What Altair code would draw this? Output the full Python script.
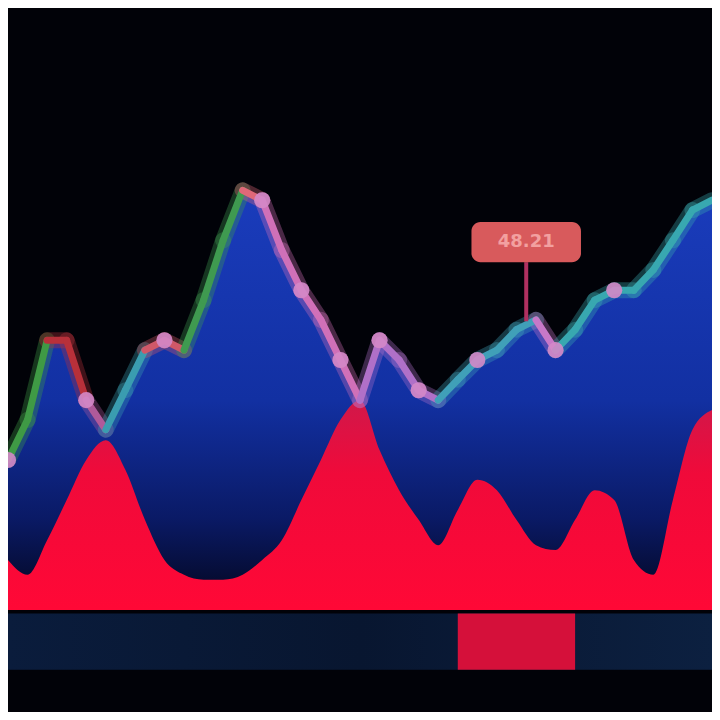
import altair as alt
import pandas as pd

# time index (one step ~ one period)
t = list(range(37))

# upper series (the bright line / top of the blue area)
price = [35.8, 41.5, 52.8, 52.8, 44.3, 40.1, 45.7, 51.4, 52.8, 51.4,
         58.5, 67.0, 74.1, 72.7, 65.6, 59.9, 55.7, 50.0, 44.3, 52.8,
         50.0, 45.7, 44.3, 47.2, 50.0, 51.4, 54.3, 55.7, 51.4, 54.3,
         58.5, 59.9, 59.9, 62.8, 67.0, 71.3, 72.7]

# lower series (top of the red area)
floor = [21.6, 19.5, 24.4, 30.1, 35.8, 38.6, 34.4, 27.3, 21.6, 19.5,
         18.8, 18.8, 19.5, 21.6, 24.4, 30.1, 35.8, 41.5, 44.3, 37.2,
         31.5, 27.3, 23.7, 28.7, 33.0, 31.5, 27.3, 23.7, 23.0, 27.3,
         31.5, 30.1, 21.6, 19.5, 30.1, 40.1, 42.9]

base_value = 14.5

# colour of each line segment (i -> i+1)
seg_colors = (["#3f9a45"] * 2 + ["#b8303a"] * 2 + ["#b05a9a"] +
              ["#3a9db0"] * 2 + ["#d05868"] * 2 +
              ["#3f9a50"] * 3 + ["#e06878"] + ["#d070b8"] * 5 +
              ["#b070c8"] * 4 + ["#40a0b8"] * 5 + ["#c878c8"] +
              ["#38a8b0"] * 8)

dot_idx = [0, 4, 8, 13, 15, 17, 19, 21, 24, 28, 31]

# annotation box
label_t = [23.7, 29.3]
label_v = [63.9, 69.6]
label_text = "48.21"
stem_v = [55.5, 63.9]

# bottom strip
strip_t = [0, 36]
strip_v = [6.0, 14.0]
strip_red_t = [23.0, 29.0]

df = pd.DataFrame({"t": t, "price": price, "floor": floor,
                   "base": [base_value] * len(t)})

seg_rows = []
for i, c in enumerate(seg_colors):
    seg_rows.append({"t": t[i], "price": price[i], "seg": i, "col": c})
    seg_rows.append({"t": t[i + 1], "price": price[i + 1], "seg": i, "col": c})
seg_df = pd.DataFrame(seg_rows)

dots_df = pd.DataFrame({"t": [t[i] for i in dot_idx],
                        "price": [price[i] for i in dot_idx]})

xs = alt.Scale(domain=[0, 36], nice=False, zero=False)
ys = alt.Scale(domain=[0, 100], nice=False, zero=False)
X = alt.X("t:Q", scale=xs, axis=None)

strip_df = pd.DataFrame({"t": [strip_t[0]], "t2": [strip_t[1]],
                         "v": [strip_v[0]], "v2": [strip_v[1]]})
strip = alt.Chart(strip_df).mark_rect(
    color=alt.Gradient(gradient="linear", x1=0, x2=1, y1=0, y2=0,
                       stops=[alt.GradientStop(offset=0, color="#0a1c3c"),
                              alt.GradientStop(offset=0.5, color="#081630"),
                              alt.GradientStop(offset=1, color="#0c2040")])
).encode(x=X, x2="t2:Q", y=alt.Y("v:Q", scale=ys, axis=None), y2="v2:Q")

strip_red_df = pd.DataFrame({"t": [strip_red_t[0]], "t2": [strip_red_t[1]],
                             "v": [strip_v[0]], "v2": [strip_v[1]]})
strip_red = alt.Chart(strip_red_df).mark_rect(color="#d5103a").encode(
    x=X, x2="t2:Q", y=alt.Y("v:Q", scale=ys, axis=None), y2="v2:Q")

blue = alt.Chart(df).mark_area(
    interpolate="monotone",
    color=alt.Gradient(gradient="linear", x1=0, x2=0, y1=0, y2=1,
                       stops=[alt.GradientStop(offset=0, color="#1a3cbc"),
                              alt.GradientStop(offset=0.5, color="#1230a2"),
                              alt.GradientStop(offset=0.78, color="#0a1a66"),
                              alt.GradientStop(offset=1, color="#03051a")])
).encode(x=X, y=alt.Y("price:Q", scale=ys, axis=None), y2="base:Q")

red = alt.Chart(df).mark_area(
    interpolate="monotone",
    color=alt.Gradient(gradient="linear", x1=0, x2=0, y1=0, y2=1,
                       stops=[alt.GradientStop(offset=0, color="#d0184a"),
                              alt.GradientStop(offset=0.35, color="#f00a3a"),
                              alt.GradientStop(offset=1, color="#ff0836")])
).encode(x=X, y=alt.Y("floor:Q", scale=ys, axis=None), y2="base:Q")

glow = alt.Chart(seg_df).mark_line(strokeWidth=16, strokeCap="round", opacity=0.35).encode(
    x=X, y=alt.Y("price:Q", scale=ys, axis=None),
    detail="seg:N", color=alt.Color("col:N", scale=None))

line = alt.Chart(seg_df).mark_line(strokeWidth=7, strokeCap="round").encode(
    x=X, y=alt.Y("price:Q", scale=ys, axis=None),
    detail="seg:N", color=alt.Color("col:N", scale=None))

dots = alt.Chart(dots_df).mark_circle(size=260, color="#d488c8", opacity=0.9).encode(
    x=X, y=alt.Y("price:Q", scale=ys, axis=None))

stem_df = pd.DataFrame({"t": [(label_t[0] + label_t[1]) / 2],
                        "v": [stem_v[0]], "v2": [stem_v[1]]})
stem = alt.Chart(stem_df).mark_rule(color="#b03060", strokeWidth=4).encode(
    x=X, y=alt.Y("v:Q", scale=ys, axis=None), y2="v2:Q")

box_df = pd.DataFrame({"t": [label_t[0]], "t2": [label_t[1]],
                       "v": [label_v[0]], "v2": [label_v[1]],
                       "tm": [(label_t[0] + label_t[1]) / 2],
                       "vm": [(label_v[0] + label_v[1]) / 2],
                       "txt": [label_text]})
box = alt.Chart(box_df).mark_rect(color="#d85a5c", cornerRadius=9).encode(
    x=X, x2="t2:Q", y=alt.Y("v:Q", scale=ys, axis=None), y2="v2:Q")
box_text = alt.Chart(box_df).mark_text(
    color="#f2a0a0", fontSize=18, font="DejaVu Sans", fontWeight="bold",
    baseline="middle", align="center").encode(
    x=alt.X("tm:Q", scale=xs, axis=None),
    y=alt.Y("vm:Q", scale=ys, axis=None), text="txt:N")

chart = alt.layer(strip, strip_red, blue, red, glow, line, dots, stem, box, box_text).properties(
    width=704, height=704,
    autosize=alt.AutoSizeParams(type="none"),
    padding=0,
    background="#010208",
).configure_view(stroke=None)

chart.save("out.html", embed_options={"renderer": "svg", "actions": False})
